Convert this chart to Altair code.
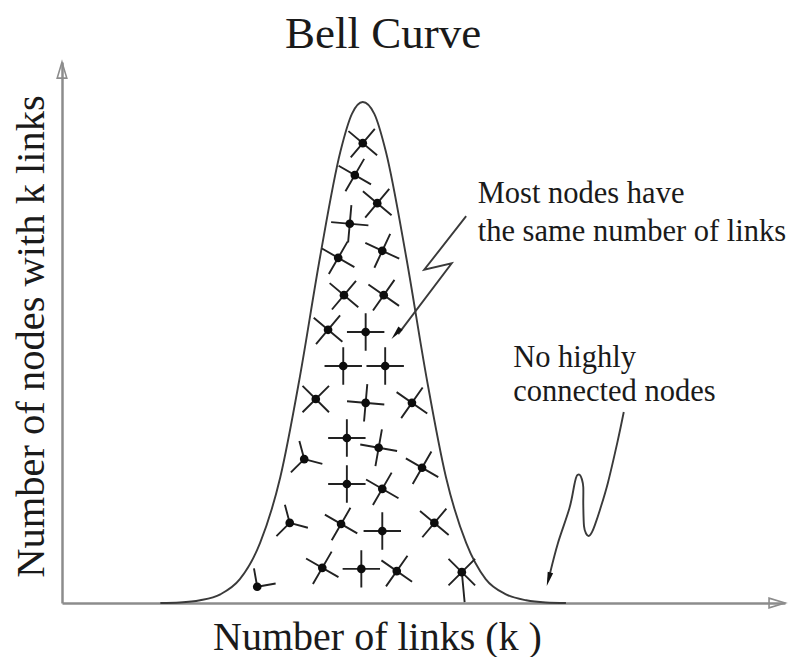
import altair as alt
import pandas as pd

# ---- values (k: links axis 0-100, n: nodes axis 0-100) ----
curve_k = [13.6, 16.3, 19.1, 21.9, 24.6, 27.4, 30.2, 32.9, 35.7, 38.5, 40.1, 41.6,
           43.2, 44.8, 47.6, 50.4, 53.1, 55.9, 58.6, 61.4, 64.2, 66.9, 69.7]
curve_n = [0.0, 0.1, 0.5, 1.6, 4.4, 11.1, 23.3, 41.8, 64.0, 83.4, 90.4, 92.6,
           90.4, 83.4, 64.0, 41.8, 23.3, 11.1, 4.4, 1.6, 0.5, 0.1, 0.0]

node_k = [41.6, 40.5, 43.6, 39.8, 38.2, 44.3, 39.0, 44.5, 36.8, 42.0, 38.9, 44.7,
          35.1, 42.0, 48.4, 39.4, 43.8, 33.5, 49.8, 39.4, 44.3, 31.5, 38.6, 44.3,
          51.5, 36.0, 41.4, 46.3, 55.3, 27.0]
node_n = [85.0, 79.1, 73.9, 70.1, 63.8, 65.1, 56.9, 56.9, 50.5, 50.1, 43.8, 43.8,
          37.7, 37.0, 37.0, 30.5, 28.7, 26.6, 25.0, 22.0, 21.1, 14.8, 14.6, 13.3,
          14.8, 6.5, 6.3, 5.9, 5.7, 3.0]
node_kind = ["plus"] * 17 + ["y3", "plus", "plus", "plus", "y3", "plus", "plus",
                              "plus", "plus", "plus", "plus", "xdown", "v2"]
node_rot = [40, 30, 40, 5, 30, 25, 40, 35, 40, 0, 0, 0,
            45, 5, 35, 0, 10, 345, 30, 0, 30, 345, 30, 0,
            40, 30, 0, 35, 0, 350]

arrow1_k = [55.9, 50.1, 53.9, 46.5]
arrow1_n = [71.5, 61.6, 62.8, 49.7]
arrow2_k = [77.7, 76.8, 75.5, 74.4, 73.7, 73.3, 72.9, 72.5, 72.2, 72.1, 72.1, 71.9,
            71.6, 71.2, 70.9, 70.2, 68.6, 67.5]
arrow2_n = [35.3, 29.6, 22.2, 17.2, 14.4, 13.1, 12.4, 12.8, 14.2, 18.1, 21.4, 22.9,
            23.7, 23.5, 22.1, 17.6, 11.1, 5.5]
head_k = [46.2, 67.3]
head_n = [49.8, 4.4]
head_rot = [220, 195]

axis_head_k = [0.0, 98.9]
axis_head_n = [98.5, 0.0]
axis_head_rot = [0, 90]

title_text = ["Bell Curve"]
title_k = [44.4]
title_n = [102.5]

ann1_text = ["Most nodes have\nthe same number of links"]
ann1_k = [57.5]
ann1_n = [73.9]
ann2_text = ["No highly\nconnected nodes"]
ann2_k = [62.4]
ann2_n = [43.6]

x_title = "Number of links (k )"
y_title = "Number of nodes with k links"

# ---- tables ----
curve_df = pd.DataFrame({"k": curve_k, "n": curve_n})
nodes_df = pd.DataFrame({"k": node_k, "n": node_n, "kind": node_kind, "rot": node_rot})
a1_df = pd.DataFrame({"k": arrow1_k, "n": arrow1_n, "i": range(len(arrow1_k))})
a2_df = pd.DataFrame({"k": arrow2_k, "n": arrow2_n, "i": range(len(arrow2_k))})
heads_df = pd.DataFrame({"k": head_k, "n": head_n, "rot": head_rot})
axh_df = pd.DataFrame({"k": axis_head_k, "n": axis_head_n, "rot": axis_head_rot})
title_df = pd.DataFrame({"k": title_k, "n": title_n, "t": title_text})
ann1_df = pd.DataFrame({"k": ann1_k, "n": ann1_n, "t": ann1_text})
ann2_df = pd.DataFrame({"k": ann2_k, "n": ann2_n, "t": ann2_text})

SERIF = "Liberation Serif"
INK = "#1a1a1a"

xs = alt.Scale(domain=[0, 100], nice=False, zero=False)
ys = alt.Scale(domain=[0, 100], nice=False, zero=False)
x_axis = alt.Axis(title=x_title, labels=False, ticks=False, grid=False,
                  domainColor="#8c8c8c", domainWidth=2.5,
                  titleFont=SERIF, titleFontSize=40, titleFontWeight="normal",
                  titleColor=INK, titleX=315, titleY=46, titleAlign="center",
                  titleBaseline="alphabetic")
y_axis = alt.Axis(title=y_title, labels=False, ticks=False, grid=False,
                  domainColor="#8c8c8c", domainWidth=2.5,
                  titleFont=SERIF, titleFontSize=40.5, titleFontWeight="normal",
                  titleColor=INK, titleAngle=270, titleX=-19, titleY=274,
                  titleAlign="center", titleBaseline="alphabetic")
X = alt.X("k:Q", scale=xs, axis=x_axis)
Y = alt.Y("n:Q", scale=ys, axis=y_axis)

curve = alt.Chart(curve_df).mark_line(interpolate="monotone", color="#3a3a3a",
                                      strokeWidth=1.9).encode(x=X, y=Y)

spoke_shapes = alt.Scale(
    domain=["plus", "y3", "v2", "xdown"],
    range=["M-1,0L1,0M0,-1L0,1",
           "M0,0L0,-1M0,0L0.87,0.5M0,0L-0.87,0.5",
           "M0,0L0,-1M0,0L1,0",
           "M-0.71,-0.71L0.71,0.71M-0.71,0.71L0.71,-0.71M0,0L0.15,1.6"])
spokes = alt.Chart(nodes_df).mark_point(filled=False, size=1400, strokeWidth=1.9,
                                        color="#222222", opacity=1).encode(
    x=X, y=Y,
    shape=alt.Shape("kind:N", scale=spoke_shapes, legend=None),
    angle=alt.Angle("rot:Q", scale=None))
dots = alt.Chart(nodes_df).mark_point(filled=True, shape="circle", size=75,
                                      color="#0d0d0d", opacity=1).encode(x=X, y=Y)

arrow1 = alt.Chart(a1_df).mark_line(color="#3a3a3a", strokeWidth=1.9).encode(
    x=X, y=Y, order="i:Q")
arrow2 = alt.Chart(a2_df).mark_line(color="#3a3a3a", strokeWidth=1.9,
                                    interpolate="cardinal").encode(x=X, y=Y, order="i:Q")
heads = alt.Chart(heads_df).mark_point(filled=True, shape="M0,-1L0.4,1L-0.4,1Z",
                                       size=196, color="#111111", opacity=1).encode(
    x=X, y=Y, angle=alt.Angle("rot:Q", scale=None))
axis_heads = alt.Chart(axh_df).mark_point(filled=False, shape="M0,-1L0.6,1L-0.6,1Z",
                                          size=256, color="#8c8c8c", strokeWidth=1.6,
                                          opacity=1).encode(
    x=X, y=Y, angle=alt.Angle("rot:Q", scale=None))

title = alt.Chart(title_df).mark_text(align="center", baseline="alphabetic", font=SERIF,
                                      fontSize=45, color=INK).encode(x=X, y=Y, text="t:N")
ann1 = alt.Chart(ann1_df).mark_text(align="left", baseline="alphabetic", font=SERIF,
                                    fontSize=30.5, lineHeight=37.5, lineBreak="\n",
                                    color=INK).encode(x=X, y=Y, text="t:N")
ann2 = alt.Chart(ann2_df).mark_text(align="left", baseline="alphabetic", font=SERIF,
                                    fontSize=30.5, lineHeight=34, lineBreak="\n",
                                    color=INK).encode(x=X, y=Y, text="t:N")

chart = alt.layer(curve, arrow1, arrow2, spokes, dots, heads, axis_heads,
                  title, ann1, ann2).properties(
    width=723, height=541,
    autosize=alt.AutoSizeParams(type="none"),
    padding={"left": 54, "top": 54, "right": 4, "bottom": 54},
    background="white",
).configure_view(stroke=None)

chart.save("out.html", embed_options={"renderer": "svg", "actions": False})
